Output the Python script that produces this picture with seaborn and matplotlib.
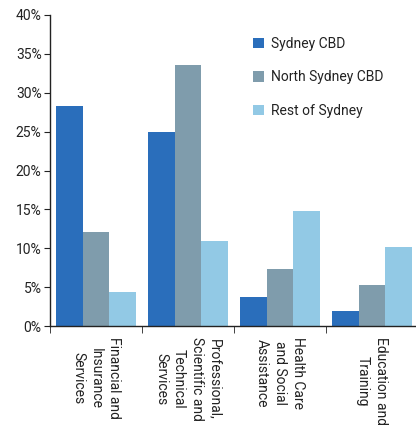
import matplotlib
matplotlib.use("Agg")
import matplotlib.pyplot as plt
import seaborn as sns
import pandas as pd
from matplotlib.ticker import FixedLocator, PercentFormatter

categories = ["Financial and\nInsurance\nServices",
              "Professional,\nScientific and\nTechnical\nServices",
              "Health Care\nand Social\nAssistance",
              "Education and\nTraining"]
series = ["Sydney CBD", "North Sydney CBD", "Rest of Sydney"]
sydney_cbd = [28.3, 25.0, 3.7, 1.9]
north_sydney_cbd = [12.1, 33.6, 7.3, 5.3]
rest_of_sydney = [4.4, 10.9, 14.8, 10.2]
colors = ["#2a6ebb", "#7f9cac", "#92c9e5"]

rows = []
for s, vals in zip(series, [sydney_cbd, north_sydney_cbd, rest_of_sydney]):
    for c, v in zip(categories, vals):
        rows.append({"cat": c, "series": s, "value": v})
df = pd.DataFrame(rows)

sns.set_style("white")
plt.rcParams['font.family'] = ['Roboto', 'DejaVu Sans']

fig = plt.figure(figsize=(4.16, 4.28), dpi=100)
ax = fig.add_axes([0.12, 0.238, 0.885, 0.727])
sns.barplot(data=df, x="cat", y="value", hue="series", palette=colors,
            width=0.86, ax=ax, saturation=1, legend=True, gap=0, linewidth=0)

ax.set_ylim(0, 40)
ax.set_xlim(-0.5, 3.5)
ax.yaxis.set_major_locator(FixedLocator([0, 5, 10, 15, 20, 25, 30, 35, 40]))
ax.yaxis.set_major_formatter(PercentFormatter(decimals=0))
ax.set_xlabel("")
ax.set_ylabel("")
for sp in ["top", "right"]:
    ax.spines[sp].set_visible(False)
for sp in ["left", "bottom"]:
    ax.spines[sp].set_color("#222222")
    ax.spines[sp].set_linewidth(1.0)

ax.set_xticks(range(4))
ax.set_xticklabels(categories, rotation=-90, ha="center", va="top",
                   multialignment="center", fontsize=10, color="#222222",
                   linespacing=1.35)
ax.tick_params(axis="x", which="major", length=0, pad=8)
ax.xaxis.set_minor_locator(FixedLocator([-0.5, 0.5, 1.5, 2.5]))
ax.tick_params(axis="x", which="minor", length=5, direction="out", color="#222222", bottom=True)
ax.tick_params(axis="y", length=4, direction="out", color="#222222", left=True,
               labelsize=10, labelcolor="#222222", pad=2)

leg = ax.legend(loc="upper left", bbox_to_anchor=(0.518, 0.97), frameon=False,
                handlelength=0.8, handleheight=0.8, handletextpad=0.5,
                labelspacing=1.4, fontsize=10)
for t in leg.get_texts():
    t.set_color("#222222")

fig.savefig("out.png", dpi=100)
